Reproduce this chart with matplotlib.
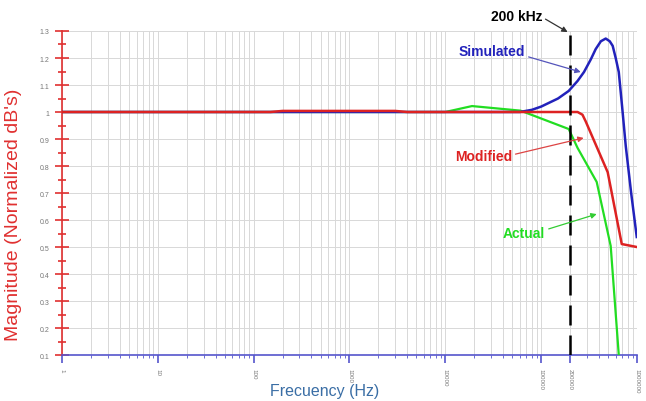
import matplotlib
matplotlib.use("Agg")
import matplotlib.pyplot as plt
from matplotlib.ticker import FixedLocator, LogLocator, NullFormatter, MultipleLocator

plt.rcParams['font.family'] = ['Liberation Sans', 'DejaVu Sans']

# Data
sim_f = [1, 60000, 80000, 100000, 150000, 194000, 240000, 280000, 330000, 371000,
         420000, 472000, 520000, 558000, 600000, 646000, 700000, 764000, 870000, 995000]
sim_v = [1.0, 1.0, 1.008, 1.02, 1.05, 1.078, 1.115, 1.148, 1.195, 1.233,
         1.262, 1.272, 1.262, 1.245, 1.2, 1.148, 1.02, 0.874, 0.70, 0.537]

mod_f = [1, 150, 200, 3000, 4000, 240000, 270000, 292000, 495000, 694000, 995000]
mod_v = [1.0, 1.0, 1.004, 1.004, 1.0, 1.0, 0.99, 0.965, 0.777, 0.511, 0.5]

act_f = [1, 10000, 19000, 61000, 194000, 240000, 380000, 532000, 646000]
act_v = [1.0, 1.0, 1.022, 1.005, 0.937, 0.867, 0.741, 0.504, 0.1]

x_ticks = [1, 10, 100, 1000, 10000, 100000, 200000, 1000000]
x_labels = ["1", "10", "100", "1000", "10000", "100000", "200000", "1000000"]
y_ticks = [0.1, 0.2, 0.3, 0.4, 0.5, 0.6, 0.7, 0.8, 0.9, 1, 1.1, 1.2, 1.3]
y_labels = ["0.1", "0.2", "0.3", "0.4", "0.5", "0.6", "0.7", "0.8", "0.9", "1", "1.1", "1.2", "1.3"]
marker_f = 200000

fig = plt.figure(figsize=(6.46, 4.02), dpi=100)
ax = fig.add_axes([0.096, 0.1144, 0.890, 0.806])

ax.set_xscale('log')
ax.set_xlim(1, 1000000)
ax.set_ylim(0.1, 1.3)

red = '#dd2222'
blue = '#2222bb'
green = '#22dd22'
axblue = '#5555cc'
axred = '#e03030'

ax.plot(act_f, act_v, color=green, lw=1.6, zorder=3)
ax.plot(sim_f, sim_v, color=blue, lw=1.8, zorder=4)
ax.plot(mod_f, mod_v, color=red, lw=1.8, zorder=5)

ax.axvline(marker_f, color='black', lw=1.8, dashes=(8, 4), zorder=6)

# grid
ax.xaxis.set_major_locator(FixedLocator(x_ticks))
ax.xaxis.set_minor_locator(LogLocator(base=10, subs=range(2, 10), numticks=20))
ax.xaxis.set_minor_formatter(NullFormatter())
ax.set_xticklabels(x_labels, rotation=270, fontsize=4.5, color='#777777')
ax.grid(True, which='both', axis='x', color='#d8d8d8', lw=0.7, zorder=0)

ax.yaxis.set_major_locator(FixedLocator(y_ticks))
ax.set_yticklabels(y_labels, fontsize=5, color='#777777')
ax.yaxis.set_minor_locator(MultipleLocator(0.05))
ax.grid(True, which='major', axis='y', color='#d8d8d8', lw=0.7, zorder=0)

for s in ['top', 'right']:
    ax.spines[s].set_visible(False)
ax.spines['left'].set_color(axred)
ax.spines['left'].set_linewidth(1.2)
ax.spines['bottom'].set_color(axblue)
ax.spines['bottom'].set_linewidth(1.2)

ax.tick_params(axis='y', which='major', direction='inout', length=10, width=1.2, color=axred, pad=4)
ax.tick_params(axis='y', which='minor', direction='inout', length=6, width=1.2, color=axred)
ax.tick_params(axis='x', which='major', direction='out', length=6, width=1.2, color=axblue, pad=3)
ax.tick_params(axis='x', which='minor', direction='out', length=2, width=0.6, color=axblue)

ax.set_ylabel("Magnitude (Normalized dB's)", color=axred, fontsize=14, va='center')
ax.yaxis.set_label_coords(-0.085, 0.435)
ax.set_xlabel("Frecuency (Hz)", color='#3a6ea5', fontsize=11.5, va='center')
ax.xaxis.set_label_coords(0.456, -0.111)

# annotations: (label, color, text pos, arrow start, arrow end, arrow color)
annots = [
    ("Simulated", blue, (30800, 1.226), (74000, 1.204), (259000, 1.148), '#5555bb'),
    ("Modified", red, (25100, 0.837), (54000, 0.844), (278000, 0.904), '#dd4444'),
    ("Actual", green, (65600, 0.552), (120000, 0.567), (380000, 0.622), '#33cc33'),
    ("200 kHz", 'black', (55500, 1.356), (111000, 1.344), (189000, 1.296), '#333333'),
]
for label, col, tpos, a0, a1, acol in annots:
    ax.text(tpos[0], tpos[1], label, color=col, fontsize=10, fontweight='bold',
            ha='center', va='center', zorder=7, clip_on=False)
    ax.annotate("", xy=a1, xytext=a0, annotation_clip=False,
                arrowprops=dict(arrowstyle='-|>', color=acol, lw=0.9, mutation_scale=8,
                                shrinkA=0, shrinkB=0), zorder=7)

fig.savefig("out.png", dpi=100)
